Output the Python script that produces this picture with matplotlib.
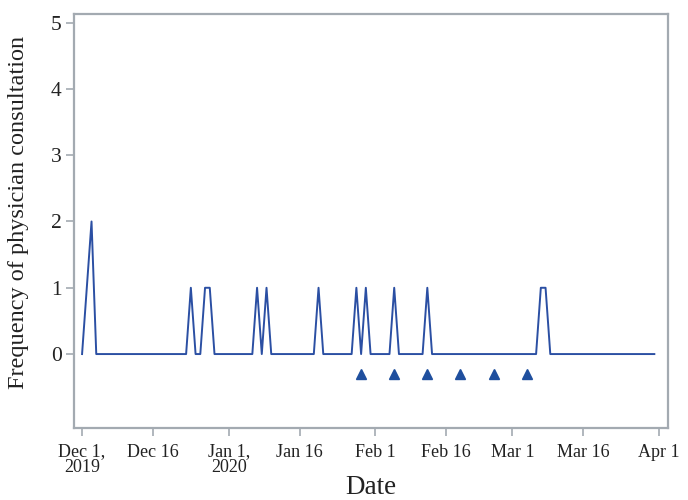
import matplotlib
matplotlib.use("Agg")
import matplotlib.pyplot as plt
import matplotlib.dates as mdates
import numpy as np
import pandas as pd

# Data: days with non-zero consultations
peak_dates = ["2019-12-02", "2019-12-03", "2019-12-24", "2019-12-27", "2019-12-28",
              "2020-01-07", "2020-01-09", "2020-01-20", "2020-01-28", "2020-01-30",
              "2020-02-05", "2020-02-12", "2020-03-07", "2020-03-08"]
peak_counts = [1, 2, 1, 1, 1, 1, 1, 1, 1, 1, 1, 1, 1, 1]
series_start = "2019-12-01"
series_end = "2020-03-31"

marker_dates = ["2020-01-29", "2020-02-05", "2020-02-12", "2020-02-19", "2020-02-26", "2020-03-04"]
marker_value = -0.3

tick_dates = ["2019-12-01", "2019-12-16", "2020-01-01", "2020-01-16", "2020-02-01",
              "2020-02-16", "2020-03-01", "2020-03-16", "2020-04-01"]
tick_labels = ["Dec 1,\n2019", "Dec 16", "Jan 1,\n2020", "Jan 16", "Feb 1",
               "Feb 16", "Mar 1", "Mar 16", "Apr 1"]
y_ticks = [0, 1, 2, 3, 4, 5]

days = pd.date_range(series_start, series_end, freq="D")
counts = pd.Series(0, index=days, dtype=float)
for d, c in zip(peak_dates, peak_counts):
    counts[pd.Timestamp(d)] = c

plt.rcParams['font.family'] = ['Liberation Serif', 'DejaVu Serif']
fig = plt.figure(figsize=(6.88, 5.0), dpi=100)
ax = fig.add_axes([0.1076, 0.1434, 0.971 - 0.1076, 0.972 - 0.1434])

line_color = "#2b4fa3"
ax.plot(counts.index, counts.values, color=line_color, lw=1.4)
ax.plot(pd.to_datetime(marker_dates), [marker_value] * len(marker_dates),
        linestyle="none", marker="^", markersize=7, color="#1f4f9e")

x0 = pd.Timestamp(series_start)
ax.set_xlim(mdates.date2num(x0) - 1.7, mdates.date2num(x0) + 123.9)
ax.set_ylim(-1.12, 5.13)

ax.set_xticks(pd.to_datetime(tick_dates))
ax.set_xticklabels(tick_labels, fontsize=13, linespacing=0.9)
ax.set_yticks(y_ticks)
ax.set_yticklabels([str(v) for v in y_ticks], fontsize=15.5)

spine_color = "#a3aab1"
for s in ax.spines.values():
    s.set_color(spine_color)
    s.set_linewidth(1.6)
ax.tick_params(axis="both", colors=spine_color, length=6, width=1.2, labelcolor="#222222")
ax.tick_params(axis="x", pad=5)
ax.tick_params(axis="y", pad=3)

ax.set_xlabel("Date", fontsize=19.5, color="#222222")
ax.xaxis.set_label_coords(0.5, -0.113)
ax.set_ylabel("Frequency of physician consultation", fontsize=17.5, color="#222222")
ax.yaxis.set_label_coords(-0.075, 0.52)

fig.savefig("out.png", dpi=100)
